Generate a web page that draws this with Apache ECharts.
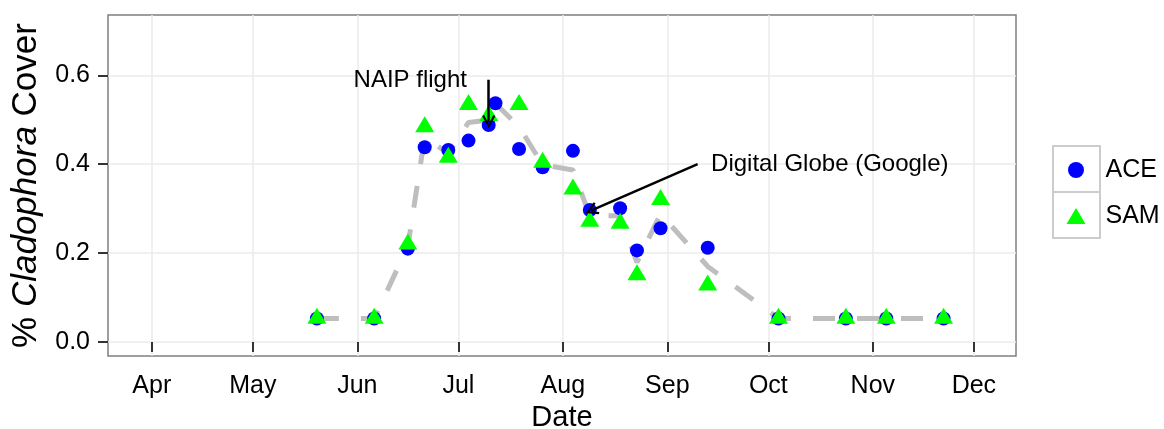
<!DOCTYPE html>
<html>
<head>
<meta charset="utf-8">
<script src="https://cdn.jsdelivr.net/npm/echarts@6/dist/echarts.min.js"></script>
<style>
html,body{margin:0;padding:0;background:#fff;}
#chart{width:1164px;height:429px;}
</style>
</head>
<body>
<div id="chart"></div>
<script>
// ---- data ----
const aceDates = ['2014-05-20','2014-06-06','2014-06-16','2014-06-21','2014-06-28','2014-07-04','2014-07-10','2014-07-12','2014-07-19','2014-07-26','2014-08-04','2014-08-09','2014-08-18','2014-08-23','2014-08-30','2014-09-13','2014-10-04','2014-10-24','2014-11-05','2014-11-22'];
const aceValues = [0.053,0.053,0.210,0.438,0.432,0.453,0.488,0.537,0.434,0.393,0.430,0.297,0.301,0.206,0.256,0.212,0.053,0.053,0.053,0.053];

const samDates = ['2014-05-20','2014-06-06','2014-06-16','2014-06-21','2014-06-28','2014-07-04','2014-07-10','2014-07-19','2014-07-26','2014-08-04','2014-08-09','2014-08-18','2014-08-23','2014-08-30','2014-09-13','2014-10-04','2014-10-24','2014-11-05','2014-11-22'];
const samValues = [0.059,0.059,0.226,0.490,0.421,0.540,0.515,0.540,0.410,0.350,0.277,0.273,0.157,0.326,0.134,0.059,0.059,0.059,0.059];

const meanDates = ['2014-05-20','2014-06-06','2014-06-16','2014-06-21','2014-06-28','2014-07-04','2014-07-10','2014-07-12','2014-07-19','2014-07-26','2014-08-04','2014-08-09','2014-08-18','2014-08-23','2014-08-30','2014-09-13','2014-10-04','2014-10-24','2014-11-05','2014-11-22'];
const meanValues = [0.053,0.053,0.215,0.461,0.424,0.494,0.499,0.537,0.484,0.399,0.387,0.284,0.284,0.179,0.288,0.170,0.053,0.053,0.053,0.053];

const monthTicks = ['2014-04-01','2014-05-01','2014-06-01','2014-07-01','2014-08-01','2014-09-01','2014-10-01','2014-11-01','2014-12-01'];
const monthLabels = ['Apr','May','Jun','Jul','Aug','Sep','Oct','Nov','Dec'];
const yTicks = [0, 0.2, 0.4, 0.6];
const yTickLabels = ['0.0','0.2','0.4','0.6'];

const annTexts = ['NAIP flight', 'Digital Globe (Google)'];
const annX = ['2014-06-16T17:00:00', '2014-09-14T00:00:00'];
const annY = [0.588, 0.400];
const arrowFromX = ['2014-07-10', '2014-09-10'];
const arrowFromY = [0.590, 0.400];
const arrowToX = ['2014-07-10', '2014-08-09T12:00:00'];
const arrowToY = [0.496, 0.296];

const xMin = '2014-03-19';
const xMax = '2014-12-13T12:00:00';

// ---- build ----
const t = s => echarts.time.parse(s).getTime();
const pairs = (ds, vs) => ds.map((d, i) => [t(d), vs[i]]);
const tickTimes = monthTicks.map(t);
const FONT = '"Liberation Sans", Arial, Helvetica, sans-serif';
const CHEVRON = 'path://M6,0 L12,10.5 L10.3,11.5 L6,3.8 L1.7,11.5 L0,10.5 Z';

const chart = echarts.init(document.getElementById('chart'), null, {renderer: 'canvas'});
chart.setOption({
  animation: false,
  backgroundColor: '#ffffff',
  textStyle: {fontFamily: FONT},
  grid: {
    left: 108, right: 148, top: 15, bottom: 73,
    outerBoundsMode: 'none',
    containLabel: false,
    show: true, borderColor: '#7f7f7f', borderWidth: 1.5, backgroundColor: '#ffffff'
  },
  xAxis: {
    type: 'value',
    min: t(xMin), max: t(xMax),
    name: 'Date',
    nameLocation: 'middle',
    nameGap: 45,
    nameTextStyle: {fontSize: 29, color: '#000', fontFamily: FONT},
    axisLine: {show: false},
    axisTick: {show: true, customValues: tickTimes, length: 10, lineStyle: {color: '#333', width: 2}},
    axisLabel: {
      customValues: tickTimes, margin: 18, fontSize: 25, color: '#000', fontFamily: FONT,
      formatter: v => { const i = tickTimes.findIndex(x => Math.abs(x - v) < 1000); return i >= 0 ? monthLabels[i] : ''; }
    },
    splitLine: {show: true, lineStyle: {color: '#ebebeb', width: 1.5}}
  },
  yAxis: {
    type: 'value',
    min: -0.0315, max: 0.7356,
    name: '{n|% }{i|Cladophora}{n| Cover}',
    nameLocation: 'middle',
    nameGap: 64,
    nameTextStyle: {
      fontSize: 35, color: '#000', fontFamily: FONT,
      rich: {
        n: {fontSize: 35, color: '#000', fontFamily: FONT},
        i: {fontSize: 35, color: '#000', fontFamily: FONT, fontStyle: 'italic'}
      }
    },
    axisLine: {show: false},
    axisTick: {show: true, customValues: yTicks, length: 10, lineStyle: {color: '#333', width: 2}},
    axisLabel: {
      customValues: yTicks, margin: 18, fontSize: 25, color: '#000', fontFamily: FONT,
      formatter: v => { const i = yTicks.findIndex(y => Math.abs(y - v) < 1e-9); return i >= 0 ? yTickLabels[i] : ''; }
    },
    splitLine: {show: true, lineStyle: {color: '#ebebeb', width: 1.5}}
  },
  legend: {
    data: ['ACE', 'SAM'],
    orient: 'vertical',
    left: 1066.5, top: 157.5,
    padding: 0,
    itemWidth: 19, itemHeight: 16, itemGap: 21,
    textStyle: {fontSize: 25, color: '#000', fontFamily: FONT, padding: [0, 0, 0, 15]},
    selectedMode: false
  },
  graphic: [
    {type: 'rect', left: 1052, top: 145, z: 0, shape: {width: 47, height: 46}, style: {fill: '#fff', stroke: '#cccccc', lineWidth: 2}},
    {type: 'rect', left: 1052, top: 191, z: 0, shape: {width: 47, height: 46}, style: {fill: '#fff', stroke: '#cccccc', lineWidth: 2}}
  ],
  series: [
    {
      name: 'mean',
      type: 'line',
      data: pairs(meanDates, meanValues),
      showSymbol: false,
      symbol: 'none',
      lineStyle: {color: '#bebebe', width: 5, type: [22, 22], cap: 'butt'},
      z: 1,
      silent: true,
      markLine: {
        silent: true,
        symbol: ['none', CHEVRON],
        symbolSize: [13, 13],
        label: {show: false},
        lineStyle: {color: '#000', width: 2.5, type: 'solid'},
        emphasis: {disabled: true},
        data: arrowFromX.map((x, i) => [
          {coord: [t(x), arrowFromY[i]]},
          {coord: [t(arrowToX[i]), arrowToY[i]]}
        ])
      },
      markPoint: {
        silent: true,
        symbol: 'circle',
        symbolSize: 0,
        data: annTexts.map((txt, i) => ({
          coord: [t(annX[i]), annY[i]],
          label: {
            show: true, formatter: txt,
            position: i === 0 ? 'inside' : 'right',
            distance: 0,
            fontSize: 24, color: '#000', fontFamily: FONT
          }
        }))
      }
    },
    {
      name: 'ACE',
      type: 'scatter',
      data: pairs(aceDates, aceValues),
      symbol: 'circle',
      symbolSize: 14,
      itemStyle: {color: '#0000ff', opacity: 1},
      z: 2
    },
    {
      name: 'SAM',
      type: 'scatter',
      data: pairs(samDates, samValues),
      symbol: 'triangle',
      symbolSize: [19, 16],
      itemStyle: {color: '#00ff00', opacity: 1},
      z: 3
    }
  ]
});
</script>
</body>
</html>
